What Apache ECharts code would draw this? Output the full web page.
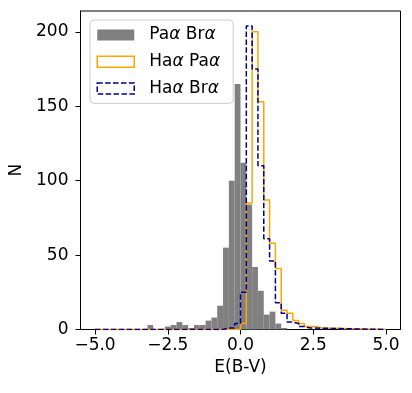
<!DOCTYPE html>
<html>
<head>
<meta charset="utf-8">
<script src="https://cdn.jsdelivr.net/npm/echarts@6/dist/echarts.min.js"></script>
<style>
  html, body { margin: 0; padding: 0; background: #fff; }
  #chart { width: 412px; height: 393px; }
</style>
</head>
<body>
<div id="chart"></div>
<script>
// histogram bins, width 0.2 on [-5, 5]
const BIN = 0.2;
const grayLeft = [-3.2, -2.6, -2.4, -2.2, -2.0, -1.8, -1.6, -1.4, -1.2, -1.0, -0.8, -0.6, -0.4, -0.2, 0.0, 0.2, 0.4, 0.6, 0.8, 1.0, 1.2, 1.4];
const grayCount = [3, 2, 3, 5, 3, 1, 3, 3, 6, 8, 16, 55, 100, 165, 112, 84, 42, 26, 10, 12, 4, 1];
const orangeLeft = [0.0, 0.2, 0.4, 0.6, 0.8, 1.0, 1.2, 1.4, 1.6, 1.8, 2.0, 2.2, 2.4, 2.6];
const orangeCount = [4, 85, 200, 153, 87, 58, 41, 13, 11, 6, 4, 2, 2, 1];
const blueLeft = [-0.6, -0.4, -0.2, 0.0, 0.2, 0.4, 0.6, 0.8, 1.0, 1.2, 1.4, 1.6, 1.8, 2.0, 2.2];
const blueCount = [1, 1, 4, 25, 204, 175, 110, 61, 46, 18, 11, 5, 4, 2, 1];
const xTicks = [-5, -2.5, 0, 2.5, 5];
const yTicks = [0, 50, 100, 150, 200];
const names = ['Paα Brα', 'Haα Paα', 'Haα Brα'];

const FONT = 'DejaVu Sans';

// outline of a step histogram, flat at 0 outside the filled bins
function stepPoints(left, count) {
  const pts = [[-5, 0]];
  left.forEach((e, i) => pts.push([e, count[i]]));
  pts.push([left[left.length - 1] + BIN, 0]);
  pts.push([5, 0]);
  return pts;
}

const chart = echarts.init(document.getElementById('chart'));
chart.setOption({
  animation: false,
  grid: {
    left: 80.5, right: 11.5, top: 11, bottom: 63.5,
    show: true, borderColor: '#000', borderWidth: 1
  },
  legend: {
    orient: 'vertical',
    left: 90, top: 20,
    padding: [6.5, 13, 6.5, 6.5],
    itemWidth: 37, itemHeight: 11, itemGap: 9.7,
    backgroundColor: 'rgba(255,255,255,0.8)',
    borderColor: '#cccccc', borderWidth: 1, borderRadius: 4,
    textStyle: {
      fontFamily: FONT, fontSize: 17, color: '#000', lineHeight: 17,
      padding: [0, 0, 0, 10],
      rich: {
        n: { fontFamily: FONT, fontSize: 17, color: '#000' },
        g: { fontFamily: FONT, fontSize: 17, color: '#000', fontStyle: 'italic' }
      }
    },
    formatter: name => name.split(/(α)/).filter(s => s).map(s => s === 'α' ? '{g|α}' : '{n|' + s + '}').join(''),
    data: [
      { name: names[0], icon: 'rect', itemStyle: { color: '#808080', borderWidth: 0 } },
      { name: names[1], icon: 'rect', itemStyle: { color: 'rgba(0,0,0,0)', borderColor: '#FFA500', borderWidth: 1.5 } },
      { name: names[2], icon: 'rect', itemStyle: { color: 'rgba(0,0,0,0)', borderColor: '#00008B', borderWidth: 1.5, borderType: [5.5, 2.4] } }
    ]
  },
  xAxis: {
    type: 'value', min: -5.5, max: 5.5,
    name: 'E(B-V)', nameLocation: 'middle', nameGap: 23,
    nameTextStyle: { fontFamily: FONT, fontSize: 17, color: '#000' },
    splitLine: { show: false },
    axisLine: { show: true, onZero: false, lineStyle: { color: '#000', width: 1 } },
    axisTick: { show: true, length: 5, customValues: xTicks, lineStyle: { color: '#000' } },
    axisLabel: {
      customValues: xTicks, margin: 8,
      fontFamily: FONT, fontSize: 17, color: '#000',
      formatter: v => v.toFixed(1).replace('-', '\u2212')
    }
  },
  yAxis: {
    type: 'value', min: 0, max: 214,
    name: 'N', nameLocation: 'middle', nameGap: 54, nameRotate: 90,
    nameTextStyle: { fontFamily: FONT, fontSize: 17, color: '#000' },
    splitLine: { show: false },
    axisLine: { show: true, onZero: false, lineStyle: { color: '#000', width: 1 } },
    axisTick: { show: true, length: 5, customValues: yTicks, lineStyle: { color: '#000' } },
    axisLabel: {
      customValues: yTicks, margin: 12,
      fontFamily: FONT, fontSize: 17, color: '#000'
    }
  },
  series: [
    {
      name: names[0],
      type: 'custom',
      encode: { x: 0, y: 1 },
      data: grayLeft.map((e, i) => [e, grayCount[i]]),
      renderItem: (params, api) => {
        const p0 = api.coord([api.value(0), api.value(1)]);
        const p1 = api.coord([api.value(0) + BIN, 0]);
        return {
          type: 'rect',
          shape: { x: p0[0], y: p0[1], width: p1[0] - p0[0], height: p1[1] - p0[1] },
          style: { fill: '#808080' }
        };
      },
      z: 1
    },
    {
      name: names[1],
      type: 'line', step: 'end', symbol: 'none',
      data: stepPoints(orangeLeft, orangeCount),
      lineStyle: { color: '#FFA500', width: 1.5 },
      itemStyle: { color: '#FFA500' },
      z: 2
    },
    {
      name: names[2],
      type: 'line', step: 'end', symbol: 'none',
      data: stepPoints(blueLeft, blueCount),
      lineStyle: { color: '#00008B', width: 1.5, type: [5.5, 2.4] },
      itemStyle: { color: '#00008B' },
      z: 3
    }
  ]
});
</script>
</body>
</html>
